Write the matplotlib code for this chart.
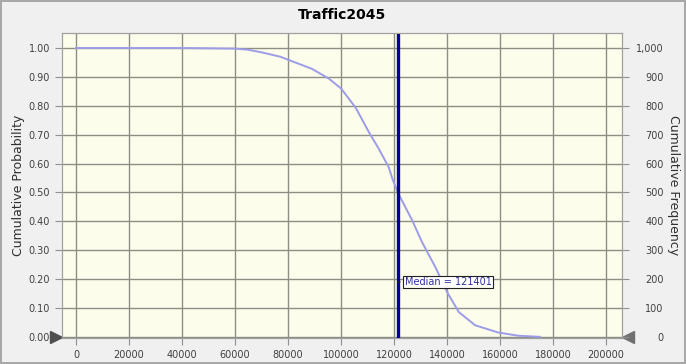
import matplotlib
matplotlib.use("Agg")
import matplotlib.pyplot as plt
import matplotlib.transforms as mtransforms
from matplotlib.ticker import FuncFormatter

# values
traffic = [0, 20000, 40000, 60000, 65000, 70000, 77000, 89000, 95400, 100000,
           105600, 110600, 114300, 118000, 119400, 121401, 126900, 130600,
           135600, 140000, 144400, 150600, 159300, 166800, 175000]
cum_prob = [1.0, 1.0, 1.0, 0.998, 0.994, 0.985, 0.970, 0.928, 0.894, 0.860,
            0.792, 0.707, 0.650, 0.587, 0.546, 0.50, 0.402, 0.327,
            0.241, 0.155, 0.086, 0.040, 0.015, 0.004, 0.0]
median = 121401
n_trials = 1000

x_ticks = list(range(0, 200001, 20000))
y_ticks = [i / 10 for i in range(11)]
freq_ticks = list(range(0, 1001, 100))

fig = plt.figure(figsize=(6.86, 3.64), dpi=100)
fig.patch.set_facecolor('#F0F0F0')
fig.patch.set_edgecolor('#A8A8A8')
fig.patch.set_linewidth(1.5)

ax = fig.add_axes([62 / 686, 26 / 364, 560 / 686, 305 / 364])
ax.set_facecolor('#FDFDEC')

ax.plot(traffic, cum_prob, color='#9C9CE8', linewidth=1.4, zorder=3)
ax.axvline(median, color='#0000A0', linewidth=2.4, zorder=4)

ax.set_xlim(-5300, 206000)
ax.set_ylim(-0.004, 1.052)
ax.set_xticks(x_ticks)
ax.set_yticks(y_ticks)
ax.yaxis.set_major_formatter(FuncFormatter(lambda v, p: '%.2f' % v))
ax.grid(True, color='#8E8E84', linewidth=1.0)
ax.set_axisbelow(True)
for s in ax.spines.values():
    s.set_color('#A0A0A0')
ax.tick_params(axis='both', labelsize=7, colors='#404040', length=5, width=0.8)
ax.tick_params(axis='both', color='#909090')

ax.set_ylabel('Cumulative Probability', fontsize=9, color='#303030', labelpad=3)
ax.set_title('Traffic2045', fontsize=10, fontweight='bold', pad=10)

ax2 = ax.twinx()
ax2.set_ylim(-0.004 * n_trials, 1.052 * n_trials)
ax2.set_yticks(freq_ticks)
ax2.yaxis.set_major_formatter(FuncFormatter(lambda v, p: '{:,.0f}'.format(v)))
ax2.tick_params(axis='y', labelsize=7, colors='#404040', length=5, width=0.8,
                pad=25)
ax2.tick_params(axis='y', color='#909090')
for lab in ax2.get_yticklabels():
    lab.set_horizontalalignment('right')
for s in ax2.spines.values():
    s.set_color('#A0A0A0')
ax2.set_ylabel('Cumulative Frequency', fontsize=9, color='#303030',
               rotation=270, labelpad=12)

# median label
ax.annotate('Median = %d' % median, xy=(median, 0.19), xytext=(5, 0),
            textcoords='offset points', va='center', ha='left',
            fontsize=7, color='#3030A0', zorder=6,
            arrowprops=dict(arrowstyle='-', color='#202020', linewidth=0.8),
            bbox=dict(boxstyle='square,pad=0.15', facecolor='white',
                      edgecolor='#202020', linewidth=0.8))

# slider triangles
trans = mtransforms.blended_transform_factory(ax.transAxes, ax.transData)
ax.plot([-0.010], [0.0], marker='>', markersize=9, color='#505050',
        transform=trans, clip_on=False, zorder=7)
ax.plot([1.010], [0.0], marker='<', markersize=9, color='#707070',
        transform=trans, clip_on=False, zorder=7)

fig.savefig('out.png', dpi=100, facecolor=fig.get_facecolor(),
            edgecolor=fig.get_edgecolor())
